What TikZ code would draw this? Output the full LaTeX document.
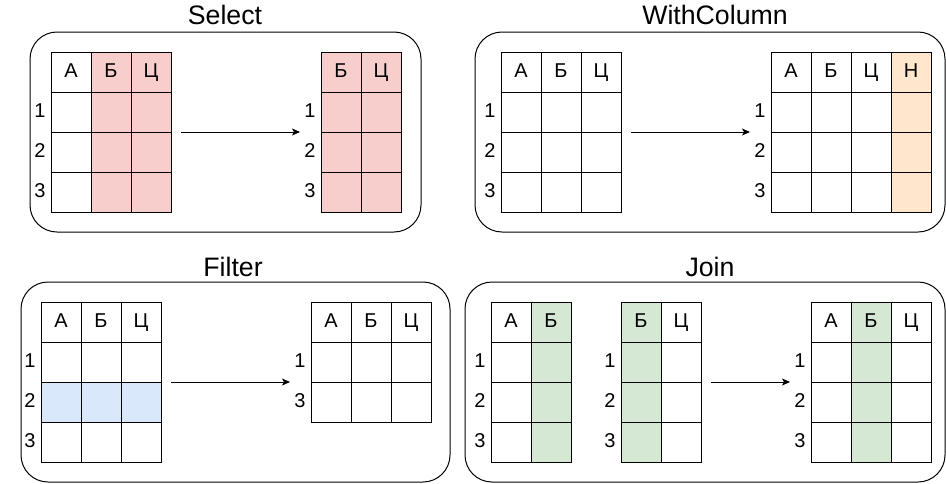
\documentclass[tikz,border=0pt]{standalone}
\usepackage{fontspec}
\setmainfont{Liberation Sans}
\usetikzlibrary{arrows.meta}
\definecolor{selred}{HTML}{F8CECC}
\definecolor{wcorange}{HTML}{FFE6CC}
\definecolor{fblue}{HTML}{DAE8FC}
\definecolor{jgreen}{HTML}{D5E8D4}
\tikzset{
  cell/.style={draw=black, line width=1pt, minimum width=40pt, minimum height=40pt,
    inner sep=0pt, outer sep=0pt, anchor=north west,
    font=\fontsize{20}{24}\selectfont, text height=14.3pt, text depth=3pt},
  rowlab/.style={inner sep=0pt, outer sep=0pt, anchor=center,
    font=\fontsize{20}{24}\selectfont, text height=14.3pt, text depth=3pt},
  row1/.style={}, row2/.style={}, row3/.style={},
  paneltitle/.style={anchor=base, inner sep=0pt, font=\fontsize{26.7}{32}\selectfont},
  panel/.style={draw=black, line width=1pt, rounded corners=27pt, anchor=north west,
    inner sep=0pt, outer sep=0pt},
  arr/.style={draw=black, line width=1pt, -{Stealth[length=8pt,width=7pt,inset=2pt]}}
}
\newcommand\drawtab[5]{%
  \foreach [count=\c] \h/\f in {#4}{%
    \node[cell, fill=\f] (#1-0-\c) at ({#2+(\c-1)*40},{#3}) {\h};
    \foreach [count=\r] \lab in {#5}{%
      \node[cell, fill=\f, row\r] (#1-\r-\c) at ({#2+(\c-1)*40},{#3+\r*40}) {};
    }
  }
  \foreach [count=\r] \lab in {#5}{%
    \node[rowlab] (#1-l\r) at ([xshift=-11pt]#1-\r-1.west) {\lab};
  }
}
\begin{document}
\begin{tikzpicture}[x=1pt,y=-1pt]
\useasboundingbox[fill=white] (0,0) rectangle (946,483);
% panels
\node[panel, minimum width=391pt, minimum height=200pt] (p-sel) at (30,32) {};
\node[panel, minimum width=470pt, minimum height=200pt] (p-wc) at (475,32) {};
\node[panel, minimum width=429pt, minimum height=200pt] (p-fil) at (21,282) {};
\node[panel, minimum width=480pt, minimum height=200pt] (p-jn) at (465,282) {};
% titles
\node[paneltitle] (t-sel) at (225,24) {Select};
\node[paneltitle] (t-wc) at (715,24) {WithColumn};
\node[paneltitle] (t-fil) at (233,276) {Filter};
\node[paneltitle] (t-jn) at (710,276) {Join};
% Select
\drawtab{selL}{51}{52}{А/white,Б/selred,Ц/selred}{1,2,3}
\drawtab{selR}{321}{52}{Б/selred,Ц/selred}{1,2,3}
\draw[arr] ([xshift=10pt]selL-1-3.south east) -- ([xshift=-21pt]selR-1-1.south west);
% WithColumn
\drawtab{wcL}{501}{52}{А/white,Б/white,Ц/white}{1,2,3}
\drawtab{wcR}{771}{52}{А/white,Б/white,Ц/white,Н/wcorange}{1,2,3}
\draw[arr] ([xshift=10pt]wcL-1-3.south east) -- ([xshift=-21pt]wcR-1-1.south west);
% Filter
\begin{scope}[row2/.style={fill=fblue}]
\drawtab{filL}{41}{302}{А/white,Б/white,Ц/white}{1,2,3}
\end{scope}
\drawtab{filR}{311}{302}{А/white,Б/white,Ц/white}{1,3}
\draw[arr] ([xshift=10pt]filL-1-3.south east) -- ([xshift=-21pt]filR-1-1.south west);
% Join
\drawtab{jnA}{491}{302}{А/white,Б/jgreen}{1,2,3}
\drawtab{jnB}{621}{302}{Б/jgreen,Ц/white}{1,2,3}
\drawtab{jnC}{811}{302}{А/white,Б/jgreen,Ц/white}{1,2,3}
\draw[arr] ([xshift=10pt]jnB-1-2.south east) -- ([xshift=-21pt]jnC-1-1.south west);
\end{tikzpicture}
\end{document}
